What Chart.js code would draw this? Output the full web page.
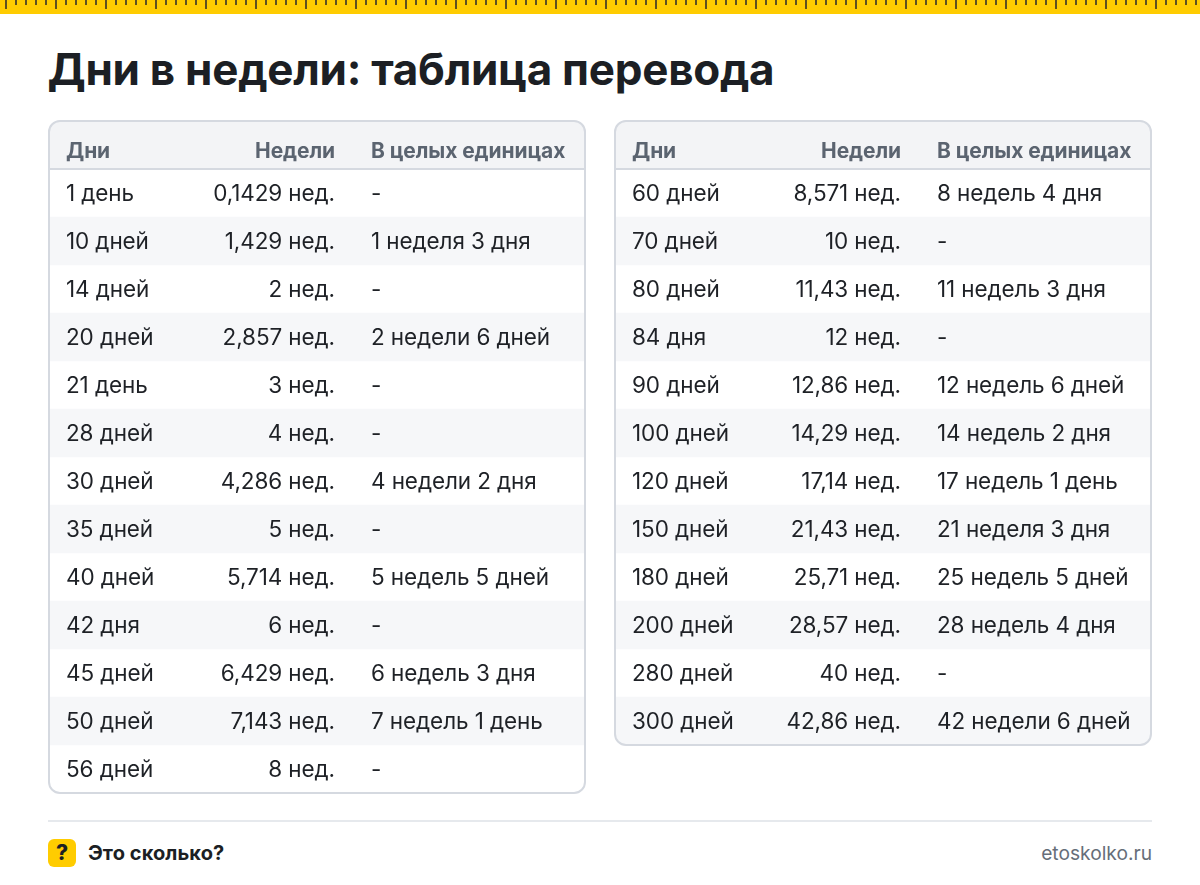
<!DOCTYPE html>
<html lang="ru">
<head>
<meta charset="utf-8">
<title>Дни в недели: таблица перевода</title>
<script src="https://cdn.jsdelivr.net/npm/chart.js@4"></script>
<style>
  html, body { margin: 0; padding: 0; background: #fff; }
  body { position: relative; width: 1200px; height: 885px; overflow: hidden; font-family: Inter, sans-serif; }
  .ruler { position: absolute; left: 0; top: 0; width: 1200px; height: 14px; background-color: #ffcc00; }
  .tick { position: absolute; top: 0; width: 2px; background: #5e5120; }
  h1 { position: absolute; left: 47.5px; top: 41px; margin: 0; font-size: 44px; line-height: 56px; font-weight: 700; color: #1c1f24; letter-spacing: -0.27px; white-space: nowrap; }
  canvas { position: absolute; top: 120px; }
  #left { left: 48px; }
  #right { left: 614px; }
  .rule { position: absolute; left: 48px; top: 820px; width: 1104px; height: 2px; background: #e6e9ed; }
  .badge { position: absolute; left: 48px; top: 839px; width: 28px; height: 28px; border-radius: 6px; background: #ffcc00; color: #1c1f24; font-size: 21px; font-weight: 800; line-height: 28px; text-align: center; }
  .brand { position: absolute; left: 88px; top: 839px; font-size: 20px; font-weight: 700; line-height: 28px; letter-spacing: 0.08px; color: #1c1f24; white-space: nowrap; }
  .site { position: absolute; right: 48px; top: 839px; font-size: 19.2px; line-height: 28px; color: #666e79; white-space: nowrap; }
</style>
</head>
<body>
<div class="ruler" id="ruler"></div>
<h1>Дни в недели: таблица перевода</h1>
<canvas id="left" width="538" height="674"></canvas>
<canvas id="right" width="538" height="626"></canvas>
<div class="rule"></div>
<div class="badge">?</div>
<div class="brand">Это сколько?</div>
<div class="site">etoskolko.ru</div>

<script>
const headers = ['Дни', 'Недели', 'В целых единицах'];

const daysLeft = ['1 день', '10 дней', '14 дней', '20 дней', '21 день', '28 дней', '30 дней', '35 дней', '40 дней', '42 дня', '45 дней', '50 дней', '56 дней'];
const weeksLeft = ['0,1429 нед.', '1,429 нед.', '2 нед.', '2,857 нед.', '3 нед.', '4 нед.', '4,286 нед.', '5 нед.', '5,714 нед.', '6 нед.', '6,429 нед.', '7,143 нед.', '8 нед.'];
const wholeLeft = ['-', '1 неделя 3 дня', '-', '2 недели 6 дней', '-', '-', '4 недели 2 дня', '-', '5 недель 5 дней', '-', '6 недель 3 дня', '7 недель 1 день', '-'];

const daysRight = ['60 дней', '70 дней', '80 дней', '84 дня', '90 дней', '100 дней', '120 дней', '150 дней', '180 дней', '200 дней', '280 дней', '300 дней'];
const weeksRight = ['8,571 нед.', '10 нед.', '11,43 нед.', '12 нед.', '12,86 нед.', '14,29 нед.', '17,14 нед.', '21,43 нед.', '25,71 нед.', '28,57 нед.', '40 нед.', '42,86 нед.'];
const wholeRight = ['8 недель 4 дня', '-', '11 недель 3 дня', '-', '12 недель 6 дней', '14 недель 2 дня', '17 недель 1 день', '21 неделя 3 дня', '25 недель 5 дней', '28 недель 4 дня', '-', '42 недели 6 дней'];

// column anchors on the x scale (0 is the inner edge of the card)
const colDays = 16;
const colWeeks = 285;
const colWhole = 321;
const innerWidth = 534;

const ink = '#1e2126';
const headInk = '#5b6470';
const borderColor = '#d5d9e0';
const headFill = '#f3f4f6';
const stripeFill = '#f6f7f9';

const ruler = document.getElementById('ruler');
for (let x = 5; x < 1200; x += 10) {
    const tick = document.createElement('div');
    tick.className = 'tick';
    tick.style.left = x + 'px';
    tick.style.height = ((x - 5) % 50 === 0 ? 9 : 5) + 'px';
    ruler.appendChild(tick);
}

const tablePlugin = {
    id: 'tablePlugin',
    beforeDatasetsDraw(chart) {
        const { ctx, width } = chart;
        ctx.save();
        ctx.beginPath();
        ctx.roundRect(1, 1, width - 2, 47, [11, 11, 0, 0]);
        ctx.fillStyle = headFill;
        ctx.fill();
        ctx.restore();
    },
    afterDatasetsDraw(chart, args, opts) {
        const { ctx, width, height, scales: { x, y } } = chart;
        ctx.save();

        // card frame and header rule
        ctx.strokeStyle = borderColor;
        ctx.lineWidth = 2;
        ctx.beginPath();
        ctx.roundRect(1, 1, width - 2, height - 2, 11);
        ctx.stroke();
        ctx.beginPath();
        ctx.moveTo(1, 49);
        ctx.lineTo(width - 1, 49);
        ctx.stroke();

        // header
        ctx.textBaseline = 'middle';
        ctx.font = '700 21px Inter, sans-serif';
        ctx.letterSpacing = '-0.1px';
        ctx.fillStyle = headInk;
        const headY = 32;
        ctx.textAlign = 'left';
        ctx.fillText(headers[0], x.getPixelForValue(colDays), headY);
        ctx.textAlign = 'right';
        ctx.fillText(headers[1], x.getPixelForValue(colWeeks), headY);
        ctx.textAlign = 'left';
        ctx.fillText(headers[2], x.getPixelForValue(colWhole), headY);

        // rows
        ctx.font = '400 22.5px Inter, sans-serif';
        ctx.letterSpacing = '-0.1px';
        ctx.fillStyle = ink;
        opts.days.forEach((day, i) => {
            const rowY = y.getPixelForValue(i) + 1;
            ctx.textAlign = 'left';
            ctx.fillText(day, x.getPixelForValue(colDays), rowY);
            ctx.textAlign = 'right';
            ctx.fillText(opts.weeks[i], x.getPixelForValue(colWeeks), rowY);
            ctx.textAlign = 'left';
            ctx.fillText(opts.whole[i], x.getPixelForValue(colWhole), rowY);
        });
        ctx.restore();
    }
};

const makeTable = (id, days, weeks, whole, roundLast) => {
    new Chart(document.getElementById(id), {
        type: 'bar',
        data: {
            labels: days,
            datasets: [{
                data: days.map((d, i) => (i % 2 ? [0, innerWidth] : null)),
                backgroundColor: stripeFill,
                barPercentage: 1,
                categoryPercentage: 1,
                borderSkipped: false,
                borderRadius: (c) => (roundLast && c.dataIndex === days.length - 1
                    ? { topLeft: 0, topRight: 0, bottomLeft: 10, bottomRight: 10 } : 0)
            }]
        },
        options: {
            indexAxis: 'y',
            responsive: false,
            animation: false,
            layout: { padding: { left: 2, right: 2, top: 49, bottom: 1 } },
            scales: {
                x: { type: 'linear', min: 0, max: innerWidth, display: false },
                y: { type: 'category', display: false }
            },
            plugins: {
                legend: { display: false },
                tooltip: { enabled: false },
                tablePlugin: { days, weeks, whole }
            }
        },
        plugins: [tablePlugin]
    });
};

document.fonts.load('400 22px Inter').then(() => document.fonts.load('700 21px Inter')).finally(() => {
    makeTable('left', daysLeft, weeksLeft, wholeLeft, false);
    makeTable('right', daysRight, weeksRight, wholeRight, true);
});
</script>
</body>
</html>
